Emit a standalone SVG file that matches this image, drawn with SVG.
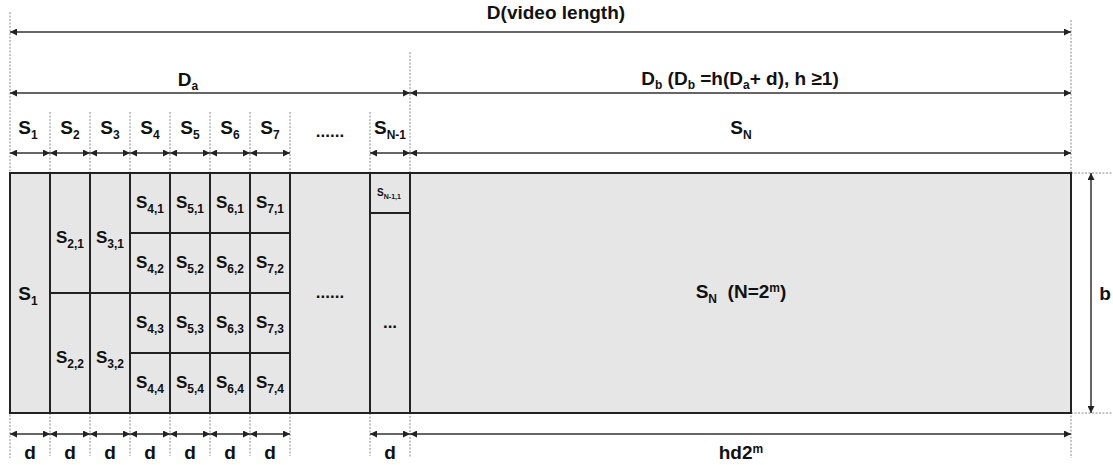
<svg xmlns="http://www.w3.org/2000/svg" width="1113" height="465" viewBox="0 0 1113 465">
<defs>
<marker id="ah" viewBox="0 0 10 10" refX="10" refY="5" markerWidth="10" markerHeight="7" markerUnits="userSpaceOnUse" orient="auto-start-reverse">
<path d="M0,0 L10,5 L0,10 z" fill="#222"/>
</marker>
</defs>
<style>
.t{font-family:"Liberation Sans",Arial,sans-serif;font-weight:bold;fill:#111}
.lab{font-size:19px}
.cell{font-size:17px}
.sm{font-size:12px}
.tiny{font-size:7px}
.mini{font-size:10px}
.dash{stroke:#8a8a8a;stroke-width:1;stroke-dasharray:2 1.5;fill:none}
.dim{stroke:#333;stroke-width:1.5;fill:none;marker-start:url(#ah);marker-end:url(#ah)}
.dimg{stroke:#666;stroke-width:2;fill:none;marker-start:url(#ah);marker-end:url(#ah)}
.c{fill:#e6e6e6;stroke:#222;stroke-width:2}
</style>
<rect width="1113" height="465" fill="#fff"/>

<g id="guides">
<path class="dash" d="M10,12V458 M1071,20V458 M410,52V458"/>
<path class="dash" d="M50,112V173 M90,112V173 M130,112V173 M170,112V173 M210,112V173 M250,112V173 M290,112V173 M370,112V173"/>
<path class="dash" d="M50,413V456 M90,413V456 M130,413V456 M170,413V456 M210,413V456 M250,413V456 M290,413V456 M370,413V456"/>
<path class="dash" d="M1071,173H1113 M1071,413H1113"/>
</g>

<g id="cells">
<g id="n-S1"><rect class="c" x="10" y="173" width="40" height="240"/><text class="t lab" x="28" y="300" text-anchor="middle">S<tspan class="sm" dy="5">1</tspan></text></g>
<g id="n-S21"><rect class="c" x="50" y="173" width="40" height="120"/><text class="t cell" x="70" y="243" text-anchor="middle">S<tspan class="sm" dy="5">2,1</tspan></text></g>
<g id="n-S22"><rect class="c" x="50" y="293" width="40" height="120"/><text class="t cell" x="70" y="363" text-anchor="middle">S<tspan class="sm" dy="5">2,2</tspan></text></g>
<g id="n-S31"><rect class="c" x="90" y="173" width="40" height="120"/><text class="t cell" x="110" y="243" text-anchor="middle">S<tspan class="sm" dy="5">3,1</tspan></text></g>
<g id="n-S32"><rect class="c" x="90" y="293" width="40" height="120"/><text class="t cell" x="110" y="363" text-anchor="middle">S<tspan class="sm" dy="5">3,2</tspan></text></g>

<g id="n-S41"><rect class="c" x="130" y="173" width="40" height="60"/><text class="t cell" x="150" y="208" text-anchor="middle">S<tspan class="sm" dy="5">4,1</tspan></text></g>
<g id="n-S42"><rect class="c" x="130" y="233" width="40" height="60"/><text class="t cell" x="150" y="268" text-anchor="middle">S<tspan class="sm" dy="5">4,2</tspan></text></g>
<g id="n-S43"><rect class="c" x="130" y="293" width="40" height="60"/><text class="t cell" x="150" y="328" text-anchor="middle">S<tspan class="sm" dy="5">4,3</tspan></text></g>
<g id="n-S44"><rect class="c" x="130" y="353" width="40" height="60"/><text class="t cell" x="150" y="388" text-anchor="middle">S<tspan class="sm" dy="5">4,4</tspan></text></g>

<g id="n-S51"><rect class="c" x="170" y="173" width="40" height="60"/><text class="t cell" x="190" y="208" text-anchor="middle">S<tspan class="sm" dy="5">5,1</tspan></text></g>
<g id="n-S52"><rect class="c" x="170" y="233" width="40" height="60"/><text class="t cell" x="190" y="268" text-anchor="middle">S<tspan class="sm" dy="5">5,2</tspan></text></g>
<g id="n-S53"><rect class="c" x="170" y="293" width="40" height="60"/><text class="t cell" x="190" y="328" text-anchor="middle">S<tspan class="sm" dy="5">5,3</tspan></text></g>
<g id="n-S54"><rect class="c" x="170" y="353" width="40" height="60"/><text class="t cell" x="190" y="388" text-anchor="middle">S<tspan class="sm" dy="5">5,4</tspan></text></g>

<g id="n-S61"><rect class="c" x="210" y="173" width="40" height="60"/><text class="t cell" x="230" y="208" text-anchor="middle">S<tspan class="sm" dy="5">6,1</tspan></text></g>
<g id="n-S62"><rect class="c" x="210" y="233" width="40" height="60"/><text class="t cell" x="230" y="268" text-anchor="middle">S<tspan class="sm" dy="5">6,2</tspan></text></g>
<g id="n-S63"><rect class="c" x="210" y="293" width="40" height="60"/><text class="t cell" x="230" y="328" text-anchor="middle">S<tspan class="sm" dy="5">6,3</tspan></text></g>
<g id="n-S64"><rect class="c" x="210" y="353" width="40" height="60"/><text class="t cell" x="230" y="388" text-anchor="middle">S<tspan class="sm" dy="5">6,4</tspan></text></g>

<g id="n-S71"><rect class="c" x="250" y="173" width="40" height="60"/><text class="t cell" x="270" y="208" text-anchor="middle">S<tspan class="sm" dy="5">7,1</tspan></text></g>
<g id="n-S72"><rect class="c" x="250" y="233" width="40" height="60"/><text class="t cell" x="270" y="268" text-anchor="middle">S<tspan class="sm" dy="5">7,2</tspan></text></g>
<g id="n-S73"><rect class="c" x="250" y="293" width="40" height="60"/><text class="t cell" x="270" y="328" text-anchor="middle">S<tspan class="sm" dy="5">7,3</tspan></text></g>
<g id="n-S74"><rect class="c" x="250" y="353" width="40" height="60"/><text class="t cell" x="270" y="388" text-anchor="middle">S<tspan class="sm" dy="5">7,4</tspan></text></g>

<g id="n-gap"><rect class="c" x="290" y="173" width="80" height="240"/><text class="t cell" x="330" y="298" text-anchor="middle">......</text></g>
<g id="n-SN11"><rect class="c" x="370" y="173" width="40" height="40"/><text class="t mini" x="389" y="196" text-anchor="middle">S<tspan class="tiny" dy="3">N-1,1</tspan></text></g>
<g id="n-SN1rest"><rect class="c" x="370" y="213" width="40" height="200"/><text class="t cell" x="390" y="328" text-anchor="middle">...</text></g>
<g id="n-SN"><rect class="c" x="410" y="173" width="661" height="240"/><text class="t lab" x="741" y="298" text-anchor="middle">S<tspan class="sm" dy="5">N</tspan><tspan dy="-5" xml:space="preserve">  (N=2</tspan><tspan class="sm" dy="-6">m</tspan><tspan dy="6">)</tspan></text></g>
</g>

<g id="connectors">
<path class="dimg" d="M10,32H1071"/>
<path class="dim" d="M10,93H410"/>
<path class="dim" d="M410,93H1071"/>
<path class="dim" d="M10,153H50"/>
<path class="dim" d="M50,153H90"/>
<path class="dim" d="M90,153H130"/>
<path class="dim" d="M130,153H170"/>
<path class="dim" d="M170,153H210"/>
<path class="dim" d="M210,153H250"/>
<path class="dim" d="M250,153H290"/>
<path class="dim" d="M370,153H410"/>
<path class="dim" d="M410,153H1071"/>
<path class="dim" d="M10,434H50"/>
<path class="dim" d="M50,434H90"/>
<path class="dim" d="M90,434H130"/>
<path class="dim" d="M130,434H170"/>
<path class="dim" d="M170,434H210"/>
<path class="dim" d="M210,434H250"/>
<path class="dim" d="M250,434H290"/>
<path class="dim" d="M370,434H410"/>
<path class="dim" d="M410,434H1071"/>
<path class="dim" d="M1091,173V413"/>
</g>

<g id="labels">
<text class="t lab" x="556" y="19" text-anchor="middle">D(video length)</text>
<text class="t lab" x="188" y="86" text-anchor="middle">D<tspan class="sm" dy="4">a</tspan></text>
<text class="t lab" x="740" y="85" text-anchor="middle">D<tspan class="sm" dy="4">b</tspan><tspan dy="-4" xml:space="preserve"> (D</tspan><tspan class="sm" dy="4">b</tspan><tspan dy="-4" xml:space="preserve"> =h(D</tspan><tspan class="sm" dy="4">a</tspan><tspan dy="-4" xml:space="preserve">+ d), h ≥1)</tspan></text>
<text class="t lab" x="28" y="134" text-anchor="middle">S<tspan class="sm" dy="5">1</tspan></text>
<text class="t lab" x="70" y="134" text-anchor="middle">S<tspan class="sm" dy="5">2</tspan></text>
<text class="t lab" x="110" y="134" text-anchor="middle">S<tspan class="sm" dy="5">3</tspan></text>
<text class="t lab" x="150" y="134" text-anchor="middle">S<tspan class="sm" dy="5">4</tspan></text>
<text class="t lab" x="190" y="134" text-anchor="middle">S<tspan class="sm" dy="5">5</tspan></text>
<text class="t lab" x="230" y="134" text-anchor="middle">S<tspan class="sm" dy="5">6</tspan></text>
<text class="t lab" x="270" y="134" text-anchor="middle">S<tspan class="sm" dy="5">7</tspan></text>
<text class="t cell" x="330" y="137" text-anchor="middle">......</text>
<text class="t lab" x="390" y="134" text-anchor="middle">S<tspan class="sm" dy="5">N-1</tspan></text>
<text class="t lab" x="741" y="134" text-anchor="middle">S<tspan class="sm" dy="5">N</tspan></text>
<text class="t lab" x="1105" y="300" text-anchor="middle">b</text>
<text class="t lab" x="30" y="459" text-anchor="middle">d</text>
<text class="t lab" x="70" y="459" text-anchor="middle">d</text>
<text class="t lab" x="110" y="459" text-anchor="middle">d</text>
<text class="t lab" x="150" y="459" text-anchor="middle">d</text>
<text class="t lab" x="190" y="459" text-anchor="middle">d</text>
<text class="t lab" x="230" y="459" text-anchor="middle">d</text>
<text class="t lab" x="270" y="459" text-anchor="middle">d</text>
<text class="t lab" x="390" y="459" text-anchor="middle">d</text>
<text class="t lab" x="741" y="459" text-anchor="middle">hd2<tspan class="sm" dy="-6">m</tspan></text>
</g>
</svg>
